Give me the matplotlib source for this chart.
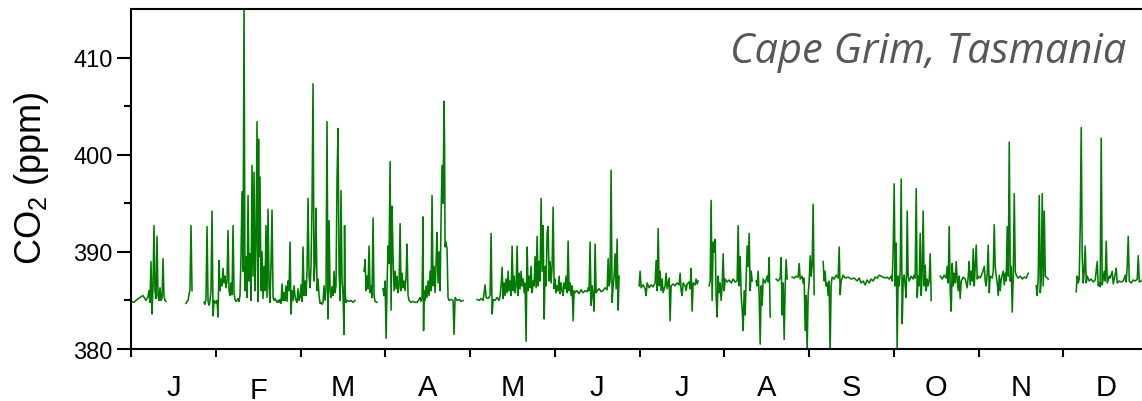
import matplotlib
matplotlib.use("Agg")
import matplotlib.pyplot as plt
from matplotlib.ticker import FixedLocator

plt.rcParams['font.family'] = ['Liberation Sans', 'DejaVu Sans']
plt.rcParams['mathtext.fontset'] = 'custom'
plt.rcParams['mathtext.rm'] = 'Liberation Sans'

# time in months since 1 Jan (month ticks are equally spaced), CO2 in ppm
# gaps in the record are kept as separate segments
jan_a_t = [0.000, 0.035, 0.071, 0.106, 0.142, 0.177, 0.201, 0.212, 0.224, 0.236, 0.248, 0.260, 0.271,
           0.283, 0.295, 0.307, 0.319, 0.330, 0.342, 0.354, 0.366, 0.378, 0.389, 0.401, 0.413]
jan_a_co2 = [384.9, 384.8, 385.1, 385.3, 385.5, 385.0, 385.4, 386.0, 384.8, 389.0, 383.6, 386.5, 392.7,
             386.0, 385.2, 391.6, 385.5, 385.0, 386.3, 385.0, 385.2, 389.3, 385.5, 385.0, 384.9]

jan_b_t = [0.649, 0.661, 0.673, 0.685, 0.696, 0.708, 0.720]
jan_b_co2 = [384.7, 384.9, 385.0, 385.6, 386.2, 392.7, 386.0]

febmar_t = [0.862, 0.873, 0.885, 0.897, 0.909, 0.921, 0.932, 0.944, 0.956, 0.968, 0.980, 0.991, 1.003,
            1.015, 1.027, 1.039, 1.050, 1.062, 1.074, 1.086, 1.098, 1.109, 1.121, 1.133, 1.145, 1.157,
            1.168, 1.180, 1.192, 1.204, 1.216, 1.227, 1.239, 1.251, 1.263, 1.275, 1.286, 1.298, 1.310,
            1.322, 1.334, 1.345, 1.357, 1.369, 1.381, 1.393, 1.404, 1.416, 1.428, 1.440, 1.452, 1.463,
            1.475, 1.487, 1.499, 1.505, 1.511, 1.522, 1.534, 1.546, 1.558, 1.570, 1.581, 1.593, 1.605,
            1.617, 1.629, 1.640, 1.652, 1.664, 1.676, 1.688, 1.699, 1.711, 1.723, 1.735, 1.747, 1.758,
            1.770, 1.782, 1.794, 1.806, 1.817, 1.829, 1.841, 1.853, 1.865, 1.877, 1.888, 1.900, 1.912,
            1.924, 1.936, 1.947, 1.959, 1.971, 1.983, 1.995, 2.006, 2.018, 2.030, 2.042, 2.054, 2.065,
            2.077, 2.089, 2.101, 2.113, 2.124, 2.136, 2.148, 2.160, 2.172, 2.183, 2.195, 2.207, 2.219,
            2.231, 2.242, 2.254, 2.266, 2.278, 2.290, 2.301, 2.313, 2.325, 2.337, 2.349, 2.360, 2.372,
            2.384, 2.396, 2.408, 2.419, 2.431, 2.443, 2.455, 2.467, 2.478, 2.490, 2.502, 2.514, 2.520,
            2.526, 2.537, 2.549, 2.573, 2.596, 2.620, 2.644]
febmar_co2 = [384.8, 384.6, 385.2, 392.6, 384.9, 384.5, 385.0, 386.0, 394.2, 383.4, 385.0, 384.9, 384.7,
              385.0, 383.3, 389.1, 386.0, 387.2, 386.5, 388.3, 386.8, 387.5, 386.3, 387.0, 392.2, 386.0,
              385.5, 386.8, 385.6, 392.7, 385.8, 385.1, 384.9, 385.0, 385.2, 384.9, 385.5, 389.5, 396.2,
              388.0, 415.5, 386.0, 389.5, 385.3, 395.8, 387.0, 389.8, 385.0, 398.9, 387.5, 398.2, 386.0,
              390.5, 403.4, 384.9, 401.6, 389.5, 397.7, 386.0, 390.0, 385.2, 388.5, 386.0, 392.7, 385.3,
              394.4, 386.5, 384.8, 388.7, 394.3, 385.3, 385.0, 385.2, 385.0, 384.8, 385.0, 384.8, 385.1,
              384.7, 386.7, 385.0, 385.8, 385.0, 386.5, 384.9, 387.0, 386.0, 391.0, 383.6, 386.0, 385.0,
              386.5, 385.4, 385.0, 384.8, 386.2, 385.0, 385.3, 386.6, 384.9, 390.5, 385.5, 387.0, 385.5,
              388.0, 395.5, 387.5, 386.3, 388.5, 394.8, 407.3, 387.0, 389.0, 394.5, 386.0, 387.2, 385.5,
              384.7, 384.8, 384.6, 384.8, 386.5, 385.0, 386.2, 403.4, 383.1, 393.2, 386.0, 385.3, 386.4,
              385.5, 388.0, 385.8, 386.5, 397.5, 402.7, 388.0, 385.0, 396.3, 387.0, 385.5, 381.5, 392.7,
              386.0, 384.8, 385.0, 384.9, 385.0, 384.8, 385.0]

mar_t = [2.750, 2.762, 2.774, 2.785, 2.797, 2.809, 2.821, 2.833, 2.844, 2.856, 2.868, 2.880, 2.903]
mar_co2 = [388.0, 389.2, 386.0, 387.5, 386.2, 390.6, 385.8, 386.5, 385.3, 393.5, 385.5, 384.9, 384.8]

apr_t = [2.974, 2.986, 2.998, 3.010, 3.021, 3.033, 3.045, 3.057, 3.069, 3.080, 3.092, 3.104, 3.116,
         3.128, 3.139, 3.151, 3.163, 3.175, 3.187, 3.198, 3.210, 3.222, 3.234, 3.246, 3.257, 3.269,
         3.281, 3.305, 3.328, 3.352, 3.375, 3.399, 3.411, 3.423, 3.434, 3.446, 3.452, 3.458, 3.470,
         3.482, 3.493, 3.505, 3.517, 3.529, 3.541, 3.552, 3.564, 3.576, 3.588, 3.600, 3.611, 3.623,
         3.635, 3.647, 3.659, 3.670, 3.682, 3.694, 3.700, 3.706, 3.717, 3.729, 3.741, 3.753, 3.777,
         3.800, 3.812, 3.824, 3.847, 3.871, 3.895, 3.918]
apr_co2 = [386.2, 385.5, 387.0, 381.1, 386.5, 390.6, 388.8, 399.3, 384.0, 394.7, 389.5, 386.0, 388.0,
           386.2, 387.5, 385.8, 386.5, 392.9, 386.0, 387.8, 386.3, 387.0, 386.0, 387.5, 390.8, 385.5,
           385.0, 384.8, 384.9, 384.8, 384.8, 385.1, 385.3, 384.9, 385.2, 393.6, 381.9, 386.0, 385.0,
           386.5, 385.3, 387.0, 385.5, 388.0, 386.0, 395.8, 386.5, 388.5, 385.8, 389.0, 392.0, 386.8,
           390.0, 386.0, 393.7, 398.9, 395.0, 405.5, 401.0, 390.5, 391.0, 390.3, 385.3, 385.0, 385.1,
           385.0, 381.5, 385.3, 385.0, 385.1, 384.9, 385.0]

mayjun_t = [4.084, 4.107, 4.131, 4.155, 4.178, 4.190, 4.214, 4.237, 4.249, 4.261, 4.273, 4.296, 4.320,
            4.343, 4.355, 4.367, 4.379, 4.391, 4.403, 4.414, 4.426, 4.438, 4.450, 4.462, 4.473, 4.485,
            4.497, 4.509, 4.521, 4.532, 4.544, 4.556, 4.568, 4.580, 4.591, 4.603, 4.615, 4.627, 4.639,
            4.650, 4.662, 4.674, 4.686, 4.698, 4.709, 4.721, 4.733, 4.745, 4.757, 4.768, 4.780, 4.792,
            4.804, 4.816, 4.827, 4.839, 4.851, 4.863, 4.875, 4.887, 4.898, 4.910, 4.922, 4.934, 4.945,
            4.957, 4.969, 4.981, 4.993, 5.004, 5.016, 5.028, 5.040, 5.052, 5.063, 5.075, 5.087, 5.099,
            5.110, 5.122, 5.134, 5.146, 5.158, 5.169, 5.181, 5.193, 5.205, 5.217, 5.228, 5.240, 5.264,
            5.287, 5.311, 5.334, 5.358, 5.382, 5.394, 5.405, 5.417, 5.429, 5.441, 5.453, 5.465, 5.476,
            5.488, 5.500, 5.523, 5.547, 5.571, 5.594, 5.618, 5.630, 5.641, 5.653, 5.665, 5.677, 5.689,
            5.700, 5.712, 5.724, 5.736, 5.748, 5.759]
mayjun_co2 = [385.1, 385.0, 385.2, 385.0, 386.6, 385.3, 385.2, 385.5, 391.9, 383.6, 385.1, 385.0, 385.3,
              385.0, 385.5, 386.5, 388.4, 385.2, 386.8, 385.5, 387.2, 385.8, 388.0, 386.0, 387.0, 385.5,
              390.6, 386.0, 387.5, 385.8, 386.5, 390.6, 385.5, 387.8, 386.2, 388.0, 386.5, 387.2, 385.8,
              386.8, 380.8, 390.5, 386.0, 387.5, 386.3, 388.5, 385.8, 387.0, 386.5, 389.5, 386.3, 391.6,
              386.5, 389.0, 387.0, 395.5, 388.0, 392.7, 383.1, 388.5, 386.5, 392.0, 392.6, 387.0, 389.0,
              386.8, 388.5, 394.6, 386.2, 387.2, 385.8, 386.5, 386.0, 387.5, 385.7, 386.8, 386.0, 385.5,
              386.8, 386.2, 387.5, 385.8, 391.1, 386.0, 386.8, 385.5, 386.5, 382.9, 386.0, 385.8, 386.0,
              385.7, 386.1, 385.8, 386.0, 385.9, 386.3, 386.0, 391.0, 384.5, 386.5, 385.5, 383.9, 390.8,
              385.8, 386.0, 386.2, 385.9, 386.0, 386.3, 386.1, 389.3, 386.5, 387.0, 398.4, 384.8, 386.5,
              387.5, 389.8, 386.2, 391.3, 384.0, 387.5]

jul_t = [5.996, 6.007, 6.019, 6.043, 6.066, 6.078, 6.090, 6.113, 6.137, 6.161, 6.184, 6.196, 6.208,
         6.220, 6.232, 6.243, 6.255, 6.267, 6.279, 6.302, 6.314, 6.326, 6.350, 6.361, 6.373, 6.397,
         6.420, 6.444, 6.468, 6.479, 6.491, 6.503, 6.515, 6.538, 6.550, 6.562, 6.585, 6.597, 6.609,
         6.621, 6.633, 6.656, 6.668, 6.680, 6.692]
jul_co2 = [386.5, 388.0, 386.3, 386.6, 386.2, 385.5, 386.8, 386.3, 386.6, 386.4, 386.8, 389.1, 386.0,
           392.4, 386.5, 388.0, 386.0, 387.2, 385.8, 386.5, 387.8, 386.2, 387.3, 382.9, 386.5, 386.7,
           386.5, 386.8, 386.6, 387.8, 386.0, 385.5, 386.8, 386.5, 386.0, 386.7, 386.9, 386.2, 388.3,
           383.9, 386.8, 386.6, 387.2, 386.7, 387.0]

julaug_t = [6.822, 6.834, 6.845, 6.857, 6.869, 6.881, 6.893, 6.904, 6.916, 6.928, 6.940, 6.952, 6.963,
            6.975, 6.987, 6.999, 7.011, 7.034, 7.058, 7.082, 7.105, 7.129, 7.152, 7.164, 7.176, 7.188,
            7.200, 7.212, 7.223, 7.235, 7.247, 7.259, 7.271, 7.282, 7.294, 7.306, 7.318, 7.330]
julaug_co2 = [386.5, 387.0, 395.3, 385.0, 391.0, 390.0, 391.3, 385.5, 383.3, 387.5, 385.8, 386.8, 385.0,
              386.5, 389.8, 386.0, 387.2, 386.9, 387.1, 386.8, 387.2, 386.9, 387.0, 392.7, 386.5, 389.5,
              385.5, 384.0, 381.9, 386.0, 383.5, 387.5, 390.6, 388.5, 391.9, 386.0, 388.0, 387.0]

aug_a_t = [7.376, 7.388, 7.400, 7.412, 7.424, 7.436, 7.447, 7.459, 7.483, 7.506, 7.518, 7.530, 7.542]
aug_a_co2 = [387.0, 386.5, 388.0, 385.5, 380.5, 386.5, 384.5, 387.2, 386.8, 387.5, 386.9, 389.4, 383.3]

aug_b_t = [7.612, 7.636, 7.660, 7.671, 7.683, 7.695, 7.707, 7.719, 7.730, 7.742]
aug_b_co2 = [387.2, 387.0, 387.3, 389.4, 383.5, 386.8, 381.0, 386.5, 389.2, 387.2]

aug_c_t = [7.801, 7.825, 7.849, 7.872, 7.884, 7.896, 7.919, 7.931, 7.943, 7.955, 7.967, 7.978, 7.990,
           8.002, 8.014, 8.026, 8.037, 8.049, 8.061]
aug_c_co2 = [387.4, 387.3, 387.5, 387.4, 388.8, 387.2, 387.5, 386.8, 387.3, 381.9, 385.5, 379.7, 385.6,
             387.0, 389.6, 387.5, 388.6, 394.9, 385.6]

sepoct_t = [8.167, 8.179, 8.190, 8.202, 8.214, 8.226, 8.238, 8.249, 8.261, 8.273, 8.297, 8.320, 8.344,
            8.356, 8.368, 8.379, 8.403, 8.427, 8.462, 8.497, 8.533, 8.568, 8.592, 8.615, 8.639, 8.662,
            8.686, 8.710, 8.733, 8.757, 8.780, 8.804, 8.828, 8.851, 8.875, 8.899, 8.922, 8.946, 8.970,
            8.981, 8.993, 9.005, 9.017, 9.029, 9.040, 9.052, 9.064, 9.076, 9.088, 9.100, 9.111, 9.123,
            9.135, 9.147, 9.159, 9.170, 9.182, 9.206, 9.229, 9.241, 9.253, 9.265, 9.277, 9.288, 9.300,
            9.312, 9.324, 9.336, 9.347, 9.359, 9.371, 9.383, 9.395, 9.406, 9.418, 9.430, 9.442]
sepoct_co2 = [389.0, 387.0, 388.0, 386.5, 386.8, 385.5, 387.0, 379.7, 386.5, 387.4, 387.2, 387.6, 387.3,
              390.5, 385.6, 387.0, 387.6, 387.3, 387.4, 387.2, 387.3, 387.0, 387.3, 386.8, 387.0, 386.6,
              387.1, 386.8, 387.2, 387.0, 387.4, 387.3, 387.6, 387.5, 387.4, 387.3, 387.4, 387.2, 387.5,
              387.0, 390.0, 397.0, 386.5, 390.9, 380.0, 387.5, 386.5, 388.0, 397.5, 382.6, 387.0, 387.6,
              386.5, 385.3, 394.2, 387.5, 387.0, 387.5, 387.2, 387.6, 387.3, 396.5, 385.3, 387.5, 386.5,
              391.9, 385.5, 388.0, 394.2, 386.5, 388.6, 386.0, 387.2, 386.5, 387.0, 389.8, 385.0]

octnov_t = [9.548, 9.572, 9.595, 9.619, 9.631, 9.643, 9.654, 9.666, 9.678, 9.690, 9.702, 9.713, 9.725,
            9.737, 9.749, 9.761, 9.772, 9.784, 9.796, 9.820, 9.843, 9.867, 9.879, 9.890, 9.902, 9.914,
            9.926, 9.938, 9.950, 9.961, 9.973, 9.985, 9.997, 10.020, 10.044, 10.068, 10.079, 10.091,
            10.103, 10.115, 10.127, 10.138, 10.162, 10.174, 10.186, 10.197, 10.209, 10.221, 10.233,
            10.245, 10.256, 10.268, 10.292, 10.304, 10.315, 10.327, 10.339, 10.351, 10.363, 10.375,
            10.386, 10.398, 10.410, 10.422, 10.434, 10.445, 10.469, 10.493, 10.516, 10.540, 10.563, 10.587]
octnov_co2 = [387.5, 387.2, 387.6, 387.3, 388.5, 386.8, 392.6, 386.0, 383.9, 388.8, 386.5, 387.8, 386.8,
              389.0, 387.0, 386.0, 387.5, 385.2, 387.0, 387.4, 387.2, 386.3, 387.5, 389.0, 386.6, 388.0,
              387.0, 390.3, 386.5, 388.5, 390.7, 387.2, 387.5, 387.3, 387.8, 388.5, 387.0, 386.5,
              387.8, 390.7, 385.8, 387.5, 387.3, 388.0, 392.8, 388.5, 387.5, 386.8, 385.5,
              387.6, 386.0, 387.2, 388.0, 386.6, 387.8, 387.0, 392.6, 387.5, 401.3, 387.0,
              388.5, 383.8, 387.5, 396.0, 388.0, 387.6, 387.3, 387.5, 387.2, 387.4, 387.3, 387.8]

nov_t = [10.681, 10.693, 10.705, 10.717, 10.729, 10.740, 10.752, 10.764, 10.776, 10.788, 10.799, 10.823]
nov_co2 = [386.5, 385.5, 387.5, 395.8, 385.8, 387.0, 396.0, 386.5, 394.2, 387.5, 387.4, 387.2]

dec_t = [11.153, 11.165, 11.177, 11.188, 11.200, 11.212, 11.224, 11.236, 11.247, 11.259, 11.271, 11.283,
         11.306, 11.330, 11.354, 11.377, 11.401, 11.413, 11.425, 11.436, 11.448, 11.460, 11.472, 11.484,
         11.495, 11.507, 11.519, 11.543, 11.554, 11.578, 11.590, 11.613, 11.625, 11.637, 11.661, 11.684,
         11.708, 11.732, 11.743, 11.755, 11.767, 11.779, 11.802, 11.826, 11.850, 11.873, 11.885, 11.897,
         11.920, 11.932]
dec_co2 = [385.9, 387.5, 386.8, 387.2, 392.5, 402.8, 389.5, 386.8, 388.0, 390.6, 386.8, 387.5,
           387.0, 387.2, 386.9, 387.1, 389.0, 386.5, 386.8, 386.4, 401.7, 386.6, 387.3, 388.0,
           387.0, 391.1, 386.8, 387.5, 387.3, 388.0, 386.7, 387.7, 388.3, 386.8, 387.0, 386.9,
           387.0, 387.6, 386.9, 388.5, 391.6, 387.0, 386.8, 387.1, 387.0, 387.2, 389.6, 386.9,
           387.0, 387.1]

segments = [(jan_a_t, jan_a_co2), (jan_b_t, jan_b_co2), (febmar_t, febmar_co2), (mar_t, mar_co2),
            (apr_t, apr_co2), (mayjun_t, mayjun_co2), (jul_t, jul_co2), (julaug_t, julaug_co2),
            (aug_a_t, aug_a_co2), (aug_b_t, aug_b_co2), (aug_c_t, aug_c_co2), (sepoct_t, sepoct_co2),
            (octnov_t, octnov_co2), (nov_t, nov_co2), (dec_t, dec_co2)]

month_edges = [0, 1, 2, 3, 4, 5, 6, 7, 8, 9, 10, 11, 12]
month_mid = [0.5, 1.5, 2.5, 3.5, 4.5, 5.5, 6.5, 7.5, 8.5, 9.5, 10.5, 11.5]
month_labels = ['J', 'F', 'M', 'A', 'M', 'J', 'J', 'A', 'S', 'O', 'N', 'D']

fig = plt.figure(figsize=(11.42, 4.02), dpi=100)
# axes runs a few pixels past the right edge (the original is cropped there)
ax = fig.add_axes([131/1142, 52/402, 1017/1142, 340/402])

for t, c in segments:
    ax.plot(t, c, color='#007a00', lw=1.15)

ax.set_xlim(0, 12)
ax.set_ylim(380, 415)
for s in ax.spines.values():
    s.set_linewidth(1.5)

ax.set_xticks(month_edges)
ax.set_xticklabels([])
ax.set_xticks(month_mid, minor=True)
ax.set_xticklabels(month_labels, minor=True, fontsize=21)
ax.tick_params(axis='x', which='major', direction='out', length=6, width=1.5)
ax.tick_params(axis='x', which='minor', length=0, pad=17)
# the F sits a little lower in the original
ax.xaxis.get_minorticklabels()[1].set_y(-0.010)

ax.set_yticks([380, 390, 400, 410])
ax.yaxis.set_minor_locator(FixedLocator([385, 395, 405]))
ax.tick_params(axis='y', which='major', direction='out', length=10, width=1.5, labelsize=17, pad=3)
ax.tick_params(axis='y', which='minor', direction='out', length=5, width=1.5)

ax.set_ylabel('CO$_2$ (ppm)', fontsize=26)
ax.yaxis.set_label_coords(-0.079, 0.505)

ax.text(0.979, 0.844, 'Cape Grim, Tasmania', transform=ax.transAxes, ha='right', va='baseline',
        fontsize=30, style='italic', family=['Open Sans', 'DejaVu Sans'], color='#575757')

fig.savefig('out.png', dpi=100)
